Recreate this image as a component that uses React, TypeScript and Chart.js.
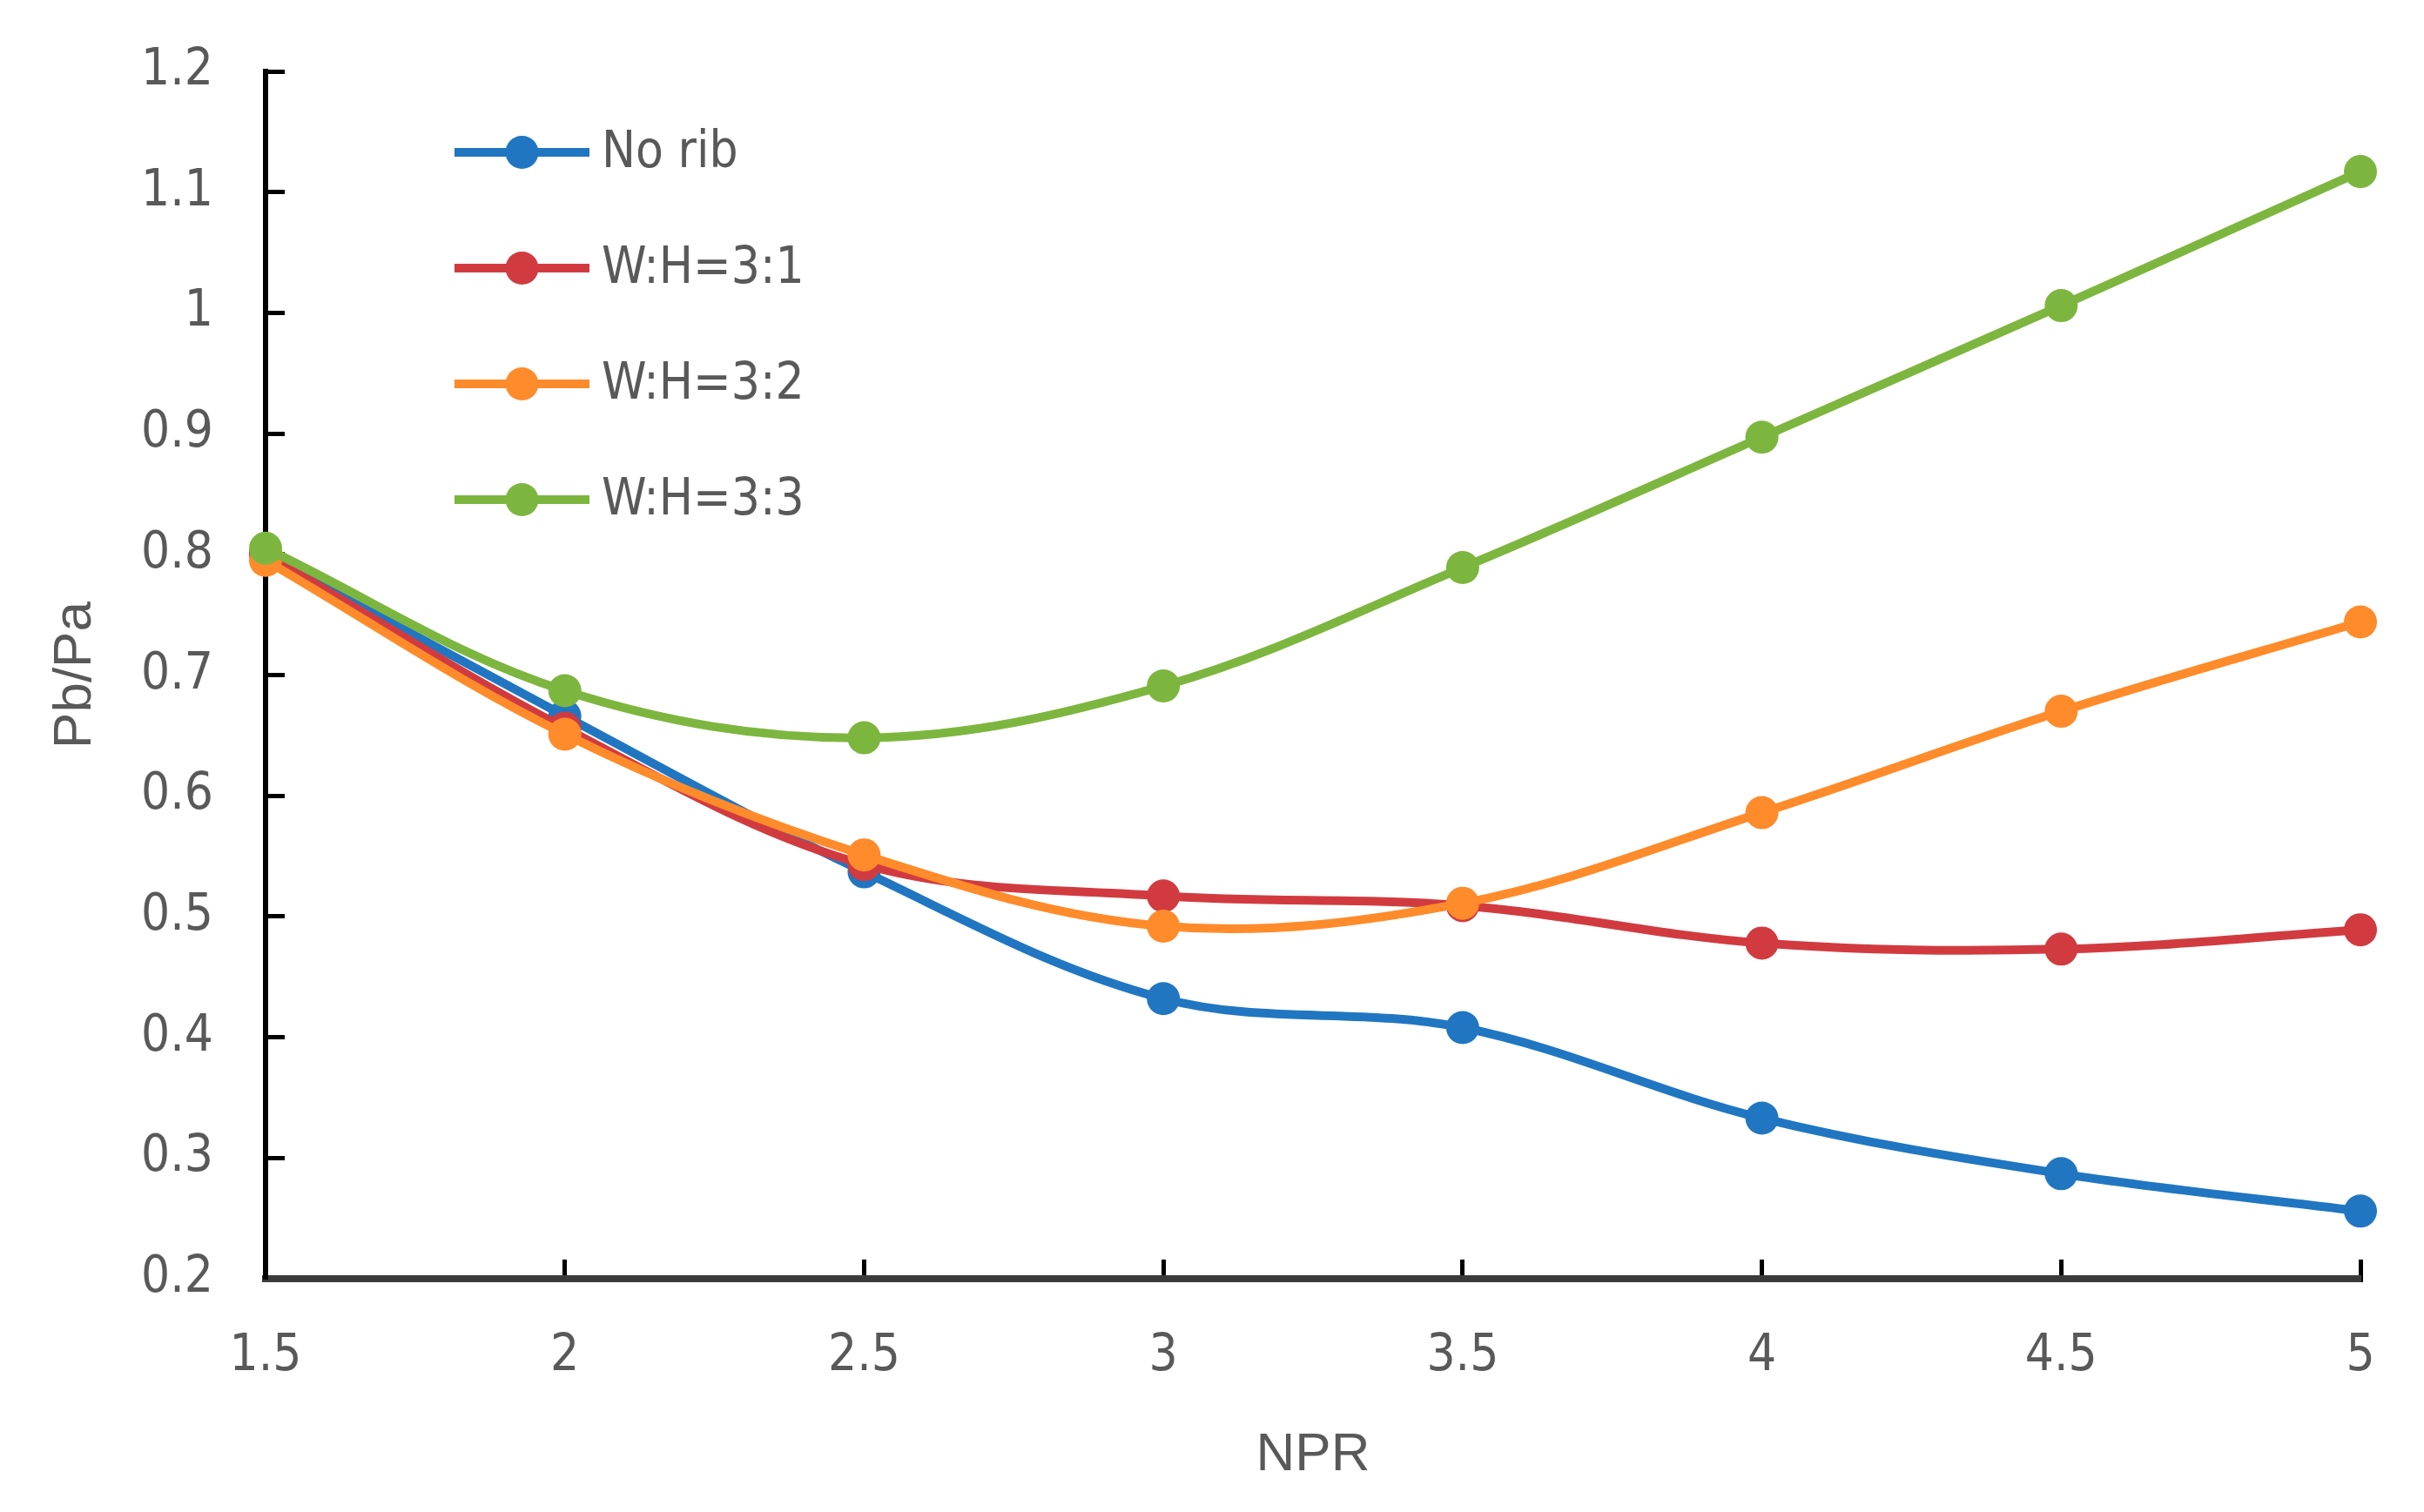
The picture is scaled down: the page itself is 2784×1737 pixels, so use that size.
import { useEffect, useRef } from "react";
import { Chart, registerables } from "chart.js";

Chart.register(...registerables);

const npr = [1.5, 2, 2.5, 3, 3.5, 4, 4.5, 5];

const noRib = [0.8, 0.666, 0.537, 0.432, 0.408, 0.333, 0.287, 0.256];
const wh31 = [0.8, 0.656, 0.543, 0.517, 0.509, 0.478, 0.473, 0.489];
const wh32 = [0.795, 0.651, 0.551, 0.492, 0.511, 0.586, 0.67, 0.744];
const wh33 = [0.805, 0.687, 0.648, 0.691, 0.789, 0.897, 1.006, 1.117];

const seriesNames = ["No rib", "W:H=3:1", "W:H=3:2", "W:H=3:3"];
const seriesColors = ["#2176C1", "#D13B40", "#FF8B2B", "#7DB63F"];

const textColor = "#595959";
const tickFont = "'DejaVu Sans Condensed', 'Liberation Sans', sans-serif";
const titleFont = "'Liberation Sans', Arial, sans-serif";

// legend sits inside the plot, top left, like the Excel original
const insideLegend = {
  id: "insideLegend",
  afterDraw(chart: any) {
    const { ctx, chartArea } = chart;
    const x0 = chartArea.left + 217;
    const x1 = chartArea.left + 372;
    const xm = (x0 + x1) / 2;
    ctx.save();
    chart.data.datasets.forEach((ds: any, i: number) => {
      const y = chartArea.top + 93 + i * 133;
      ctx.strokeStyle = ds.borderColor;
      ctx.lineWidth = 10;
      ctx.beginPath();
      ctx.moveTo(x0, y);
      ctx.lineTo(x1, y);
      ctx.stroke();
      ctx.fillStyle = ds.pointBackgroundColor;
      ctx.beginPath();
      ctx.arc(xm, y, 19, 0, Math.PI * 2);
      ctx.fill();
      ctx.fillStyle = textColor;
      ctx.font = `58px ${tickFont}`;
      ctx.textBaseline = "middle";
      ctx.textAlign = "left";
      ctx.fillText(ds.label, x1 + 14, y + 2);
    });
    ctx.restore();
  },
};

const noEdgePadding = (s: any) => {
  s.paddingTop = 0;
  s.paddingBottom = 0;
  s.paddingLeft = 0;
  s.paddingRight = 0;
};

export default function App() {
  const canvasRef = useRef<HTMLCanvasElement>(null);

  useEffect(() => {
    document.body.style.margin = "0";
    if (!canvasRef.current) return;
    const all = [noRib, wh31, wh32, wh33];
    const chart = new Chart(canvasRef.current, {
      type: "line",
      data: {
        datasets: all.map((vals, i) => ({
          label: seriesNames[i],
          data: vals.map((v, j) => ({ x: npr[j], y: v })),
          borderColor: seriesColors[i],
          backgroundColor: seriesColors[i],
          pointBackgroundColor: seriesColors[i],
          pointBorderColor: seriesColors[i],
          borderWidth: 10,
          pointRadius: 19,
          pointBorderWidth: 0,
          tension: 0.35,
          clip: false as any,
          order: 3 - i,
        })),
      },
      options: {
        animation: false,
        responsive: true,
        maintainAspectRatio: false,
        layout: { padding: { top: 82, right: 73, left: 0, bottom: 0 } },
        plugins: {
          legend: { display: false },
          tooltip: { enabled: false },
        },
        scales: {
          x: {
            type: "linear",
            min: 1.5,
            max: 5,
            ticks: {
              stepSize: 0.5,
              color: textColor,
              font: { size: 58, family: tickFont },
              padding: 77,
              callback: (v: any) => String(+Number(v).toFixed(1)),
            },
            grid: {
              drawOnChartArea: false,
              drawTicks: true,
              tickLength: -22,
              tickWidth: 5,
              tickColor: "#000",
            },
            border: { color: "#3a3a3a", width: 8 },
            title: {
              display: true,
              text: "NPR",
              color: textColor,
              font: { size: 62, family: titleFont },
              padding: { top: 0, bottom: 28 },
            },
            afterFit: (s: any) => {
              s.height = 268;
              noEdgePadding(s);
            },
          },
          y: {
            type: "linear",
            min: 0.2,
            max: 1.2,
            ticks: {
              stepSize: 0.1,
              color: textColor,
              font: { size: 58, family: tickFont },
              padding: 82,
              callback: (v: any) => String(+Number(v).toFixed(1)),
            },
            grid: {
              drawOnChartArea: false,
              drawTicks: true,
              tickLength: -22,
              tickWidth: 5,
              tickColor: "#000",
            },
            border: { color: "#000", width: 6 },
            title: {
              display: true,
              text: "Pb/Pa",
              color: textColor,
              font: { size: 62, family: titleFont },
              padding: { top: 50, bottom: 0 },
            },
            afterFit: (s: any) => {
              s.width = 305;
              noEdgePadding(s);
            },
          },
        },
      },
      plugins: [insideLegend],
    });
    return () => chart.destroy();
  }, []);

  return (
    <div style={{ position: "relative", width: 2784, height: 1737 }}>
      <canvas ref={canvasRef}></canvas>
    </div>
  );
}
